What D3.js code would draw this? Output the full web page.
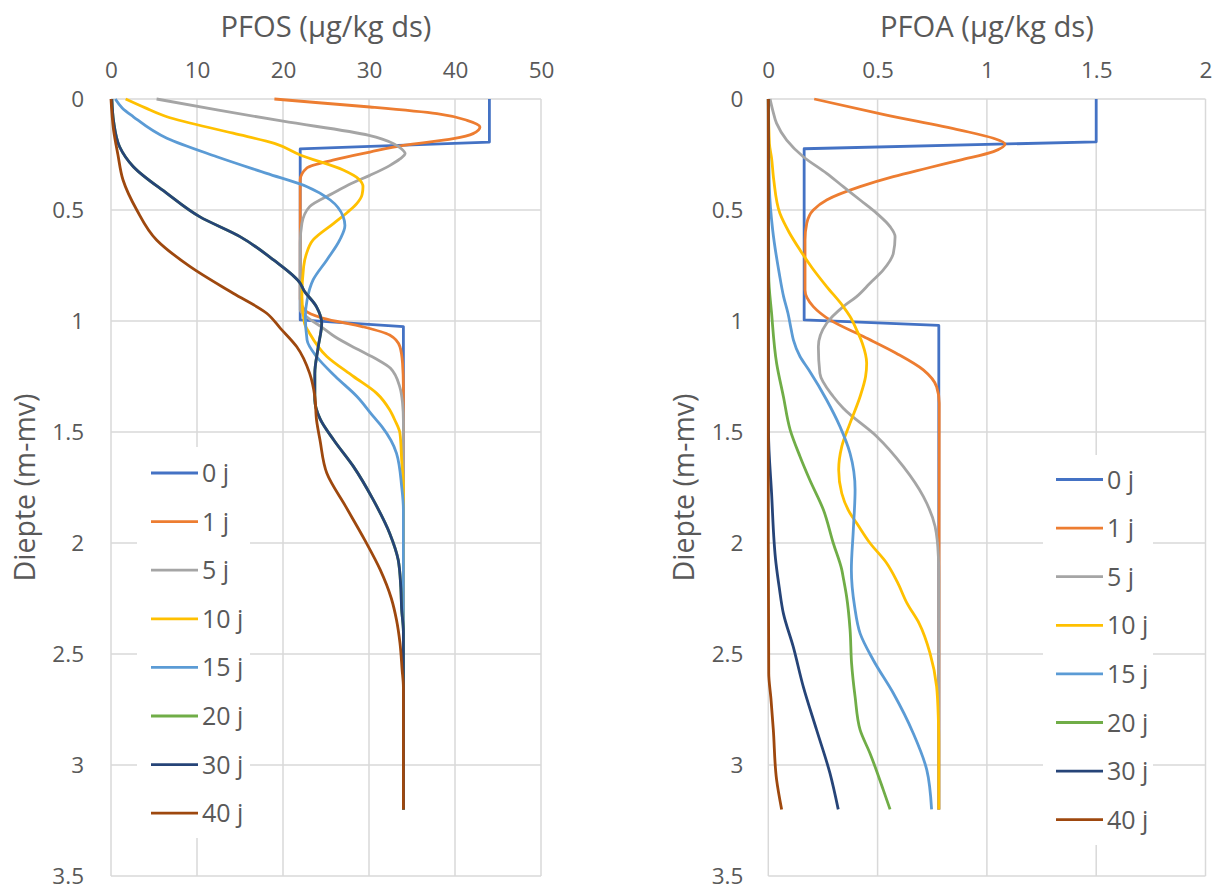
<!DOCTYPE html>
<html><head><meta charset="utf-8">
<script src="https://cdn.jsdelivr.net/npm/d3@7/dist/d3.min.js"></script>
<style>
html,body{margin:0;padding:0;background:#fff;}
svg text{font-family:"Open Sans","Noto Sans",Lato,sans-serif;fill:#595959;}
</style></head>
<body><svg id="c" width="1213" height="888"></svg>
<script>
// ---- data ----
const seriesNames = ["0 j","1 j","5 j","10 j","15 j","20 j","30 j","40 j"];
const depthTicks = [0,0.5,1,1.5,2,2.5,3,3.5];
const pfosTicks = [0,10,20,30,40,50];
const pfoaTicks = [0,0.5,1,1.5,2];
// [depth (m-mv), concentration]
const pfos0 = [[0,44],[0.194,44],[0.225,22],[0.995,22],[1.025,34],[3.2,34]];
const pfos1 = [[0,19],[0.018,24.5],[0.036,30.1],[0.066,37.9],[0.096,41.4],[0.126,42.9],[0.156,42.1],[0.179,39.8],[0.209,34],[0.239,30.1],[0.275,25.8],[0.31,22.8],[0.365,22.0],[0.5,22],[0.9,22],[0.95,22.5],[0.988,24.7],[1.026,29.3],[1.063,32.4],[1.116,33.6],[1.19,33.9],[1.3,34],[3.2,34]];
const pfos5 = [[0,5.3],[0.05,12.5],[0.1,20],[0.164,30],[0.2,32.8],[0.225,33.8],[0.246,34.2],[0.27,33.6],[0.3,32.4],[0.344,30.1],[0.38,28],[0.425,25.8],[0.485,23.1],[0.56,22.2],[0.65,22],[0.95,22],[0.973,22.5],[1.033,24.7],[1.07,26],[1.13,28.8],[1.17,30.8],[1.213,32.5],[1.3,33.6],[1.37,33.9],[1.45,34],[3.2,34]];
const pfos10 = [[0,1.7],[0.04,4],[0.08,6.5],[0.154,14.2],[0.2,19],[0.252,22],[0.32,27],[0.36,28.8],[0.395,29.3],[0.43,29.2],[0.47,28.6],[0.51,27.5],[0.56,25.9],[0.635,23.5],[0.7,22.7],[0.755,22.4],[0.89,22.2],[1.01,22.5],[1.056,23.1],[1.16,25.1],[1.25,28.2],[1.326,30.9],[1.40,32.4],[1.446,33.0],[1.506,33.6],[1.626,33.8],[1.75,34],[3.2,34]];
const pfos15 = [[0,0.5],[0.04,1.3],[0.08,2.6],[0.177,6.5],[0.26,12.3],[0.335,18.1],[0.395,22.8],[0.455,25.5],[0.53,27],[0.57,27.2],[0.635,26.6],[0.725,25.1],[0.815,23.5],[0.905,22.8],[0.98,22.6],[1.086,22.8],[1.16,23.9],[1.25,26.1],[1.34,28.6],[1.43,30.5],[1.476,31.5],[1.596,33.2],[1.746,33.8],[1.85,34],[3.2,34]];
const pfos20 = [[0,0.1],[0.1,0.3],[0.215,1.0],[0.305,2.6],[0.425,6.5],[0.53,10.3],[0.62,15],[0.725,18.9],[0.83,22],[0.86,22.4],[0.936,23.9],[1.01,24.5],[1.116,24.1],[1.236,23.7],[1.356,23.7],[1.44,24.3],[1.536,25.9],[1.656,28.2],[1.806,30.5],[1.956,32.4],[2.077,33.4],[2.2,33.7],[2.3,33.8],[2.4,34],[3.2,34]];
const pfos30 = [[0,0.1],[0.1,0.3],[0.215,1.0],[0.305,2.6],[0.425,6.5],[0.53,10.3],[0.62,15],[0.725,18.9],[0.83,22],[0.86,22.4],[0.936,23.9],[1.01,24.5],[1.116,24.1],[1.236,23.7],[1.356,23.7],[1.44,24.3],[1.536,25.9],[1.656,28.2],[1.806,30.5],[1.956,32.4],[2.077,33.4],[2.2,33.7],[2.3,33.8],[2.4,34],[3.2,34]];
const pfos40 = [[0,0],[0.14,0.3],[0.25,0.8],[0.365,1.4],[0.5,3.0],[0.635,5.3],[0.755,9.2],[0.875,14.2],[0.965,18.1],[1.033,19.7],[1.116,21.6],[1.236,23.1],[1.34,23.7],[1.446,23.9],[1.536,24.3],[1.686,25.1],[1.836,27.3],[1.986,29.5],[2.12,31.3],[2.25,32.6],[2.347,33.2],[2.45,33.6],[2.57,33.85],[2.65,34],[3.2,34]];

const pfoa0 = [[0,1.5],[0.193,1.5],[0.224,0.164],[0.995,0.164],[1.02,0.78],[3.2,0.78]];
const pfoa1 = [[0,0.21],[0.07,0.53],[0.14,0.877],[0.177,1.03],[0.203,1.083],[0.237,1.03],[0.275,0.877],[0.312,0.725],[0.35,0.572],[0.395,0.42],[0.455,0.267],[0.5,0.206],[0.56,0.176],[0.635,0.168],[0.86,0.168],[0.935,0.206],[0.995,0.282],[1.07,0.435],[1.146,0.587],[1.22,0.709],[1.296,0.77],[1.37,0.782],[3.2,0.78]];
const pfoa5 = [[0,0.008],[0.05,0.02],[0.11,0.038],[0.185,0.084],[0.26,0.16],[0.335,0.267],[0.395,0.343],[0.455,0.42],[0.515,0.496],[0.575,0.557],[0.62,0.58],[0.695,0.572],[0.77,0.526],[0.83,0.465],[0.89,0.404],[0.935,0.343],[1.01,0.267],[1.116,0.229],[1.236,0.236],[1.34,0.297],[1.393,0.343],[1.52,0.496],[1.656,0.618],[1.79,0.709],[1.926,0.763],[2.06,0.778],[2.15,0.78],[3.2,0.78]];
const pfoa10 = [[0,0],[0.2,0.005],[0.267,0.015],[0.365,0.025],[0.515,0.053],[0.6,0.095],[0.68,0.145],[0.76,0.2],[0.845,0.267],[0.935,0.343],[0.98,0.374],[1.04,0.404],[1.1,0.43],[1.19,0.45],[1.25,0.445],[1.34,0.42],[1.46,0.374],[1.566,0.336],[1.67,0.322],[1.776,0.336],[1.866,0.374],[1.91,0.404],[2.0,0.465],[2.09,0.541],[2.175,0.59],[2.272,0.635],[2.362,0.69],[2.497,0.74],[2.647,0.77],[2.797,0.778],[2.9,0.78],[3.2,0.78]];
const pfoa15 = [[0,0],[0.4,0.005],[0.59,0.02],[0.785,0.05],[0.89,0.07],[0.965,0.09],[1.04,0.105],[1.086,0.115],[1.16,0.145],[1.22,0.185],[1.356,0.267],[1.476,0.328],[1.596,0.374],[1.76,0.397],[1.94,0.389],[2.12,0.38],[2.287,0.395],[2.407,0.42],[2.527,0.48],[2.677,0.572],[2.857,0.663],[3.022,0.725],[3.2,0.747]];
const pfoa20 = [[0,0],[0.8,0.002],[0.965,0.015],[1.19,0.038],[1.34,0.069],[1.49,0.1],[1.61,0.145],[1.716,0.19],[1.85,0.252],[2.0,0.297],[2.12,0.336],[2.167,0.345],[2.24,0.358],[2.39,0.374],[2.542,0.381],[2.692,0.397],[2.842,0.42],[2.947,0.465],[3.112,0.526],[3.2,0.557]];
const pfoa30 = [[0,0],[1.5,0.001],[1.776,0.015],[2.09,0.035],[2.2,0.05],[2.317,0.069],[2.467,0.114],[2.647,0.16],[2.842,0.221],[3.037,0.282],[3.2,0.32]];
const pfoa40 = [[0,0],[1.0,0],[2.0,0],[2.587,0.002],[2.7,0.012],[2.842,0.023],[3.067,0.038],[3.2,0.061]];

const pfosSeries = [pfos0,pfos1,pfos5,pfos10,pfos15,pfos20,pfos30,pfos40];
const pfoaSeries = [pfoa0,pfoa1,pfoa5,pfoa10,pfoa15,pfoa20,pfoa30,pfoa40];
const colors = ["#4472C4","#ED7D31","#A5A5A5","#FFC000","#5B9BD5","#70AD47","#264478","#9E480E"];

// ---- drawing ----
const svg = d3.select("#c");
const plotTop = 99, plotBottom = 876;

function fit(sel, target, base){
  sel.attr("font-size", base);
  const w = sel.node().getComputedTextLength();
  if (w > 0) sel.attr("font-size", base * target / w);
}

function drawPanel(cfg){
  const x = d3.scaleLinear().domain(cfg.xDomain).range([cfg.left, cfg.right]);
  const y = d3.scaleLinear().domain([0,3.5]).range([plotTop, plotBottom]);
  const g = svg.append("g");
  g.append("g").selectAll("line").data(cfg.xTicks).join("line")
    .attr("x1",d=>x(d)).attr("x2",d=>x(d)).attr("y1",plotTop).attr("y2",plotBottom)
    .attr("stroke","#d9d9d9").attr("stroke-width",1.5);
  g.append("g").selectAll("line").data(depthTicks).join("line")
    .attr("x1",cfg.left).attr("x2",cfg.right).attr("y1",d=>y(d)).attr("y2",d=>y(d))
    .attr("stroke","#d9d9d9").attr("stroke-width",1.5);
  const xa = d3.axisTop(x).tickValues(cfg.xTicks).tickSize(0).tickPadding(0).tickFormat(d=>String(d));
  const gx = g.append("g").attr("transform",`translate(0,${plotTop-21})`).call(xa);
  gx.select(".domain").remove();
  gx.attr("font-family",null).attr("font-size",null);
  gx.selectAll("text").attr("font-size",22.5).attr("fill","#595959");
  const ya = d3.axisLeft(y).tickValues(depthTicks).tickSize(0).tickPadding(0).tickFormat(d=>String(d));
  const gy = g.append("g").attr("transform",`translate(${cfg.left-cfg.yLabelOff},0)`).call(ya);
  gy.select(".domain").remove();
  gy.attr("font-family",null).attr("font-size",null);
  gy.selectAll("text").attr("font-size",22.5).attr("fill","#595959");
  const t = g.append("text").attr("x",(cfg.left+cfg.right)/2).attr("y",37).attr("text-anchor","middle").text(cfg.title);
  fit(t, cfg.titleW, 28);
  const yt = g.append("text").attr("transform",`translate(${cfg.ytX},${(plotTop+plotBottom)/2}) rotate(-90)`)
    .attr("text-anchor","middle").text("Diepte (m-mv)");
  fit(yt, 188, 27);
  const lg = g.append("g");
  lg.append("rect").attr("x",cfg.leg.x0).attr("y",cfg.leg.y0).attr("width",cfg.leg.w).attr("height",cfg.leg.h).attr("fill","#fff");
  cfg.series.forEach((s,i)=>{
    const line = d3.line().x(d=>x(d[1])).y(d=>y(d[0])).curve(i===0 ? d3.curveLinear : d3.curveMonotoneY);
    g.append("path").datum(s).attr("fill","none").attr("stroke",colors[i]).attr("stroke-width",2.8)
      .attr("stroke-linejoin","round").attr("d", line);
  });
  seriesNames.forEach((n,i)=>{
    const yy = cfg.leg.first + i*cfg.leg.step;
    lg.append("line").attr("x1",cfg.leg.lx).attr("x2",cfg.leg.lx+47).attr("y1",yy).attr("y2",yy)
      .attr("stroke",colors[i]).attr("stroke-width",2.8);
    lg.append("text").attr("x",cfg.leg.lx+51).attr("y",yy).attr("dy","0.36em").attr("font-size",25).text(n);
  });
}

drawPanel({left:111,right:541,xDomain:[0,50],xTicks:pfosTicks,series:pfosSeries,title:"PFOS (µg/kg ds)",titleW:211,
  yLabelOff:27,ytX:35,leg:{x0:137,y0:447,w:113,h:391,lx:151,first:473,step:48.6}});
drawPanel({left:768.3,right:1205.5,xDomain:[0,2],xTicks:pfoaTicks,series:pfoaSeries,title:"PFOA (µg/kg ds)",titleW:214,
  yLabelOff:25,ytX:694,leg:{x0:1043,y0:455,w:110,h:390,lx:1056,first:479.5,step:48.6}});
</script></body></html>
